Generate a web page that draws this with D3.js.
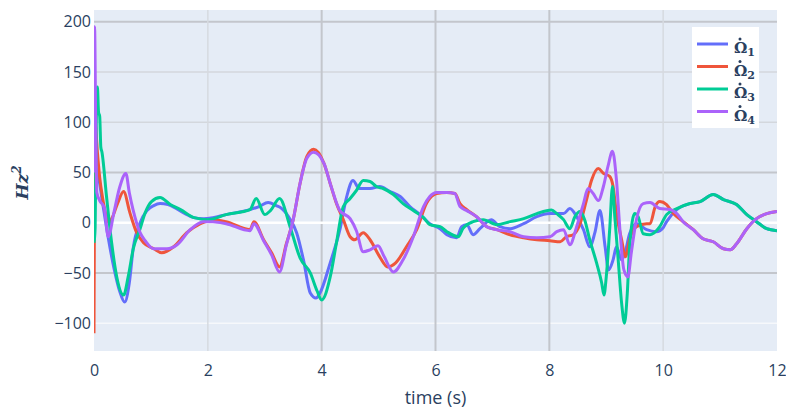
<!DOCTYPE html>
<html>
<head>
<meta charset="utf-8">
<script src="https://cdn.jsdelivr.net/npm/d3@7"></script>
<style>
  html, body { margin: 0; padding: 0; background: #fff; }
  svg { display: block; font-family: "Open Sans", "Noto Sans", sans-serif; }
</style>
</head>
<body>
<svg id="chart"></svg>
<script>
// Rotor acceleration traces, 0-12 s.

const xTicks = [0, 2, 4, 6, 8, 10, 12];
const yTicks = [-100, -50, 0, 50, 100, 150, 200];
const seriesNames = ["1", "2", "3", "4"];

// Ω̇1 (blue)
const t1 = [0, 0.03, 0.08, 0.15, 0.25, 0.35, 0.45, 0.54, 0.62, 0.69, 0.81, 0.93, 1.05, 1.16, 1.3, 1.45, 1.6, 1.75, 1.92,
  2.09, 2.32, 2.74, 2.9, 3.06, 3.2, 3.3, 3.45, 3.56, 3.68, 3.8, 3.9, 3.97, 4.15, 4.32, 4.44, 4.55, 4.66, 4.85, 5.02, 5.2,
  5.38, 5.55, 5.73, 5.9, 6.08, 6.2, 6.37, 6.46, 6.55, 6.66, 6.78, 6.98, 7.13, 7.31, 7.55, 7.78, 8.01, 8.25, 8.36, 8.48,
  8.6, 8.71, 8.8, 8.89, 8.98, 9.04, 9.12, 9.18, 9.27, 9.33, 9.41, 9.53, 9.71, 9.88, 10.0, 10.06, 10.24, 10.47, 10.65,
  10.88, 11.06, 11.29, 11.47, 11.64, 11.82, 12.0];
const v1 = [0, 55, 45, 20, -15, -45, -68, -79, -60, -25, 0, 12, 17, 19, 18, 14, 9, 5, 4,
  5, 8, 13, 16, 20, 17, 14, 3, -10, -37, -70, -75, -70, -40, -7, 26, 42, 34, 34, 36, 31,
  26, 16, 8, -1, -6, -12, -15, -4, -2, -12, -6, 3, -4, -6, -1, 6, 9, 9, 14, 6,
  -7, -24, -10, 12, -24, -47, -37, -24, -37, -30, -11, -1, -7, -9, -5, 1, 13, 19, 21,
  28, 23, 18, 8, 1, -6, -8];

// Ω̇2 (red)
const t2 = [0, 0.02, 0.06, 0.1, 0.15, 0.2, 0.26, 0.32, 0.42, 0.52, 0.63, 0.75, 0.87, 1.05, 1.19, 1.4, 1.63, 1.87,
  2.09, 2.32, 2.74, 2.81, 2.98, 3.12, 3.26, 3.38, 3.5, 3.62, 3.74, 3.86, 4.04, 4.15, 4.26, 4.38, 4.5, 4.58, 4.73, 4.85,
  5.02, 5.16, 5.3, 5.49, 5.67, 5.84, 6.02, 6.2, 6.34, 6.43, 6.55, 6.72, 6.9, 7.08, 7.31, 7.55, 7.78, 8.01, 8.19, 8.3,
  8.42, 8.54, 8.65, 8.74, 8.86, 8.95, 9.06, 9.12, 9.18, 9.27, 9.34, 9.41, 9.53, 9.71, 9.77, 9.86, 9.94, 10.06, 10.18,
  10.35, 10.53, 10.7, 10.88, 11.06, 11.18, 11.29, 11.47, 11.64, 11.82, 12.0];
const v2 = [-110, 99, 70, 45, 25, 10, 0, 5, 20, 31, 10, -10, -20, -26, -30, -24, -10, -1,
  3, 1, -7, 1, -17, -30, -44, -21, 3, 39, 66, 73, 59, 39, 19, 3, -14, -17, -10, -17,
  -34, -44, -40, -24, -7, 19, 29, 30, 29, 19, 13, 6, -4, -7, -12, -15, -17, -18, -19, -14,
  -12, -1, 22, 42, 54, 49, 46, 36, 9, -17, -34, -17, -4, -1, -1, 16, 21, 18, 9,
  1, -7, -16, -19, -26, -27, -21, -6, 4, 9, 11];

// Ω̇3 (green)
const t3 = [0, 0.02, 0.04, 0.06, 0.08, 0.1, 0.12, 0.14, 0.22, 0.31, 0.4, 0.52, 0.6, 0.69, 0.81, 0.9, 1.01, 1.16, 1.34,
  1.52, 1.76, 2.0, 2.32, 2.74, 2.85, 3.0, 3.1, 3.26, 3.45, 3.62, 3.8, 3.92, 4.0, 4.15, 4.26, 4.38, 4.5, 4.61, 4.73,
  4.85, 4.96, 5.08, 5.26, 5.43, 5.61, 5.79, 5.9, 6.08, 6.2, 6.4, 6.48, 6.66, 6.84, 7.08, 7.31, 7.55, 7.78, 8.04, 8.13,
  8.25, 8.36, 8.45, 8.54, 8.62, 8.71, 8.83, 8.92, 8.96, 9.0, 9.06, 9.11, 9.15, 9.21, 9.27, 9.32, 9.37, 9.41, 9.5, 9.56,
  9.65, 9.77, 9.94, 10.06, 10.24, 10.47, 10.65, 10.88, 11.06, 11.29, 11.47, 11.64, 11.82, 12.0];
const v3 = [-20, -5, 100, 135, 110, 106, 75, 70, 26, -20, -54, -72, -54, -26, -6, 10, 21, 25, 18,
  13, 5, 3, 8, 13, 24, 8, 12, 24, -5, -35, -50, -68, -77, -54, -20, 16, 24, 32, 42,
  41, 36, 34, 28, 19, 12, 5, -2, -4, -9, -14, -6, 1, 3, -2, 1, 4, 9, 12.6, 9,
  3, -6, 6, 11, 3, -17, -40, -60, -72, -54, -7, 36, 6, -37, -80, -100, -70, -24, 9, 6,
  -11, -12, -4, 8, 14, 19, 21, 28, 23, 18, 8, 1, -6, -8];

// Ω̇4 (purple)
const t4 = [0, 0.01, 0.03, 0.05, 0.1, 0.18, 0.25, 0.35, 0.45, 0.56, 0.62, 0.69, 0.81, 0.9, 1.05, 1.28, 1.46, 1.69, 1.92,
  2.09, 2.32, 2.74, 2.81, 2.98, 3.12, 3.26, 3.38, 3.5, 3.62, 3.74, 3.86, 4.04, 4.15, 4.32, 4.5, 4.61, 4.73, 4.85, 4.99,
  5.1, 5.26, 5.43, 5.61, 5.79, 5.9, 6.02, 6.2, 6.34, 6.43, 6.55, 6.72, 6.9, 7.08, 7.31, 7.55, 7.78, 8.01, 8.13, 8.25,
  8.36, 8.48, 8.6, 8.68, 8.77, 8.86, 8.95, 9.03, 9.11, 9.18, 9.24, 9.31, 9.38, 9.44, 9.53, 9.65, 9.77, 9.94, 10.12,
  10.24, 10.35, 10.53, 10.7, 10.88, 11.06, 11.18, 11.29, 11.47, 11.64, 11.82, 12.0];
const v4 = [50, 195, 100, 30, 22, 15, -14, 10, 35, 49, 30, 12, -10, -18, -26, -26, -22, -7, 1,
  1, -1, -8, -1, -18, -32, -49, -22, 3, 39, 64, 70, 59, 39, 12, 4, -8, -29, -27, -23,
  -34, -49, -37, -14, 16, 26, 30, 30, 29, 16, 12, 6, -4, -7, -9, -14, -15, -14, -9, -7,
  -22, -4, 19, 34, 29, 22, 36, 56, 71, 42, -7, -47, -54, -30, 3, 19, 20, 14, 13,
  9, 1, -7, -16, -19, -26, -27, -21, -6, 4, 9, 11];

const W = 786, H = 413;
const M = { top: 10, right: 9, bottom: 62, left: 94 };
const innerW = W - M.left - M.right;
const innerH = H - M.top - M.bottom;
const COLORS = ["#636efa", "#EF553B", "#00cc96", "#ab63fa"];
const TXT = "#2a3f5f";

const svg = d3.select("#chart").attr("width", W).attr("height", H);

const x = d3.scaleLinear().domain([0, 12]).range([0, innerW]);
const y = d3.scaleLinear().domain([-127.7, 211.6]).range([innerH, 0]);

const g = svg.append("g").attr("transform", `translate(${M.left},${M.top})`);

g.append("rect").attr("width", innerW).attr("height", innerH).attr("fill", "#e5ecf6");

// gridlines (the picture shows some darker than others)
const darkY = [200, 50, -50];
const darkX = [4, 6, 8];
g.append("g").selectAll("line").data(yTicks.filter(d => d !== 0)).join("line")
  .attr("x1", 0).attr("x2", innerW)
  .attr("y1", d => y(d)).attr("y2", d => y(d))
  .attr("stroke", d => darkY.includes(d) ? "#c3c6cc" : (d === -100 ? "#f6f8fb" : "#d3d7dd"))
  .attr("stroke-width", d => darkY.includes(d) ? 2 : 1.5);
g.append("g").selectAll("line").data(xTicks.filter(d => d > 0 && d < 12)).join("line")
  .attr("y1", 0).attr("y2", innerH)
  .attr("x1", d => x(d)).attr("x2", d => x(d))
  .attr("stroke", d => darkX.includes(d) ? "#c3c6cc" : "#d6dae0")
  .attr("stroke-width", d => darkX.includes(d) ? 2 : 1.5);
g.append("line").attr("x1", 0).attr("x2", innerW).attr("y1", y(0)).attr("y2", y(0))
  .attr("stroke", "#fff").attr("stroke-width", 2.5);

// axes
const xAxis = g.append("g").attr("transform", `translate(0,${innerH})`)
  .call(d3.axisBottom(x).tickValues(xTicks).tickSize(0).tickPadding(14).tickFormat(d3.format("d")));
const yAxis = g.append("g")
  .call(d3.axisLeft(y).tickValues(yTicks).tickSize(0).tickPadding(3)
    .tickFormat(d => d < 0 ? "\u2212" + Math.abs(d) : String(d)));
[xAxis, yAxis].forEach(a => {
  a.select(".domain").remove();
  a.selectAll("text").attr("fill", TXT).attr("font-size", 16).attr("font-family", "'Open Sans', sans-serif");
});

// lines
svg.append("defs").append("clipPath").attr("id", "clip")
  .append("rect").attr("width", innerW).attr("height", innerH);

const series = [[t1, v1], [t2, v2], [t3, v3], [t4, v4]];
const line = d3.line().x(d => x(d[0])).y(d => y(d[1])).curve(d3.curveMonotoneX);
const lines = g.append("g").attr("clip-path", "url(#clip)");
series.forEach(([ts, vs], i) => {
  lines.append("path")
    .datum(d3.zip(ts, vs))
    .attr("fill", "none")
    .attr("stroke", COLORS[i])
    .attr("stroke-width", 3)
    .attr("stroke-linejoin", "round")
    .attr("d", line);
});

// axis titles
svg.append("text")
  .attr("x", M.left + innerW / 2).attr("y", 404)
  .attr("text-anchor", "middle")
  .attr("fill", TXT).attr("font-size", 18)
  .text("time (s)");

const yt = svg.append("text")
  .attr("transform", `translate(28,${M.top + y(40)}) rotate(-90)`)
  .attr("text-anchor", "middle")
  .attr("fill", TXT)
  .attr("font-family", "'DejaVu Serif', serif")
  .attr("font-style", "italic").attr("font-weight", "bold")
  .attr("font-size", 17);
yt.append("tspan").text("Hz");
yt.append("tspan").attr("font-size", 12).attr("dy", -7).text("2");

// legend
const lg = svg.append("g").attr("transform", "translate(692,27)");
lg.append("rect").attr("width", 67).attr("height", 101).attr("fill", "#fff");
seriesNames.forEach((n, i) => {
  const yy = 17 + i * 22.5;
  lg.append("line").attr("x1", 5).attr("x2", 36).attr("y1", yy).attr("y2", yy)
    .attr("stroke", COLORS[i]).attr("stroke-width", 3);
  const t = lg.append("text").attr("x", 42).attr("y", yy + 9)
    .attr("fill", TXT)
    .attr("font-family", "'DejaVu Serif', serif").attr("font-weight", "bold")
    .attr("font-size", 15);
  t.append("tspan").text("\u03A9");
  t.append("tspan").attr("font-size", 11).attr("dy", 3).text(n);
  // time-derivative dot over the Omega
  lg.append("circle").attr("cx", 48).attr("cy", yy - 5).attr("r", 1.5).attr("fill", TXT);
});
</script>
</body>
</html>
